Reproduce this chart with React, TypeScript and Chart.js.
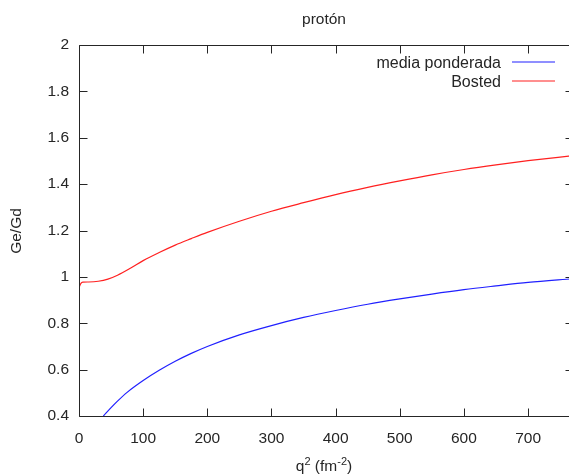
import { useEffect, useRef } from "react";
import { Chart, registerables } from "chart.js";

Chart.register(...registerables);

const chartTitle = "protón";
const yAxisTitle = "Ge/Gd";
const seriesNames = ["media ponderada", "Bosted"];
const seriesColors = ["#2020ff", "#ff2020"];

const mediaQ2 = [38, 50, 60, 75, 100, 125, 150, 175, 200, 250, 300, 350, 400, 450, 500, 550, 600, 650, 700, 770];
const mediaValues = [0.4, 0.436, 0.464, 0.502, 0.553, 0.597, 0.636, 0.67, 0.7, 0.75, 0.79, 0.825, 0.855, 0.882, 0.905, 0.926, 0.945, 0.961, 0.976, 0.992];

const bostedQ2 = [0, 1, 3, 6, 15, 30, 45, 60, 80, 100, 125, 150, 175, 200, 250, 300, 350, 400, 450, 500, 550, 600, 650, 700, 770];
const bostedValues = [0.95, 0.96, 0.972, 0.977, 0.978, 0.981, 0.99, 1.007, 1.037, 1.07, 1.105, 1.137, 1.165, 1.192, 1.24, 1.283, 1.32, 1.355, 1.386, 1.414, 1.44, 1.463, 1.483, 1.501, 1.523];

const xTicks = [0, 100, 200, 300, 400, 500, 600, 700];
const yTicks = [0.4, 0.6, 0.8, 1, 1.2, 1.4, 1.6, 1.8, 2];

const FONT_FAMILY = "'Liberation Sans', Arial, sans-serif";
const TEXT_COLOR = "#262626";

const framePlugin = {
  id: "gnuplotFrame",
  afterDatasetsDraw(chart: any) {
    const { ctx, chartArea } = chart;
    const xs = chart.scales.x;
    const ys = chart.scales.y;
    const L = Math.round(chartArea.left) + 0.5;
    const R = Math.round(chartArea.right) + 0.5;
    const T = Math.round(chartArea.top) + 0.5;
    const B = Math.round(chartArea.bottom) + 0.5;
    const tl = 8;
    ctx.save();
    ctx.strokeStyle = TEXT_COLOR;
    ctx.lineWidth = 1;
    ctx.beginPath();
    ctx.rect(L, T, R - L, B - T);
    xTicks.forEach((v) => {
      const px = Math.round(xs.getPixelForValue(v)) + 0.5;
      ctx.moveTo(px, B);
      ctx.lineTo(px, B - tl);
      ctx.moveTo(px, T);
      ctx.lineTo(px, T + tl);
    });
    yTicks.forEach((v) => {
      const py = Math.round(ys.getPixelForValue(v)) + 0.5;
      ctx.moveTo(L, py);
      ctx.lineTo(L + tl, py);
      ctx.moveTo(R, py);
      ctx.lineTo(R - tl, py);
    });
    ctx.stroke();

    // title
    ctx.fillStyle = TEXT_COLOR;
    ctx.font = `15.5px ${FONT_FAMILY}`;
    ctx.textAlign = "center";
    ctx.textBaseline = "middle";
    const cx = (chartArea.left + 569) / 2;
    ctx.fillText(chartTitle, cx, 20);

    // y title
    ctx.save();
    ctx.translate(17, 231);
    ctx.rotate(-Math.PI / 2);
    ctx.fillText(yAxisTitle, 0, 0);
    ctx.restore();

    // x title with superscripts: q^2 (fm^-2)
    const parts: [string, boolean][] = [["q", false], ["2", true], [" (fm", false], ["-2", true], [")", false]];
    const mainFont = `15.5px ${FONT_FAMILY}`;
    const supFont = `11px ${FONT_FAMILY}`;
    let total = 0;
    parts.forEach(([t, sup]) => {
      ctx.font = sup ? supFont : mainFont;
      total += ctx.measureText(t).width;
    });
    let x0 = cx - total / 2;
    ctx.textAlign = "left";
    ctx.textBaseline = "alphabetic";
    const base = 471;
    parts.forEach(([t, sup]) => {
      ctx.font = sup ? supFont : mainFont;
      ctx.fillText(t, x0, sup ? base - 6 : base);
      x0 += ctx.measureText(t).width;
    });

    // legend
    ctx.font = `16px ${FONT_FAMILY}`;
    ctx.textAlign = "right";
    ctx.textBaseline = "alphabetic";
    const legendY = [62, 81];
    seriesNames.forEach((name, i) => {
      ctx.fillStyle = TEXT_COLOR;
      ctx.fillText(name, 501, legendY[i] + 5.5);
      ctx.strokeStyle = seriesColors[i];
      ctx.lineWidth = 1.2;
      ctx.beginPath();
      ctx.moveTo(512, legendY[i]);
      ctx.lineTo(555, legendY[i]);
      ctx.stroke();
    });
    ctx.restore();
  },
};

export default function App() {
  const canvasRef = useRef<HTMLCanvasElement | null>(null);

  useEffect(() => {
    const canvas = canvasRef.current;
    if (!canvas) return;
    const chart = new Chart(canvas, {
      type: "line",
      data: {
        datasets: [
          {
            label: seriesNames[0],
            data: mediaQ2.map((q, i) => ({ x: q, y: mediaValues[i] })),
            borderColor: seriesColors[0],
            borderWidth: 1.2,
            pointRadius: 0,
            cubicInterpolationMode: "monotone",
            fill: false,
          },
          {
            label: seriesNames[1],
            data: bostedQ2.map((q, i) => ({ x: q, y: bostedValues[i] })),
            borderColor: seriesColors[1],
            borderWidth: 1.2,
            pointRadius: 0,
            cubicInterpolationMode: "monotone",
            fill: false,
          },
        ],
      },
      options: {
        responsive: false,
        maintainAspectRatio: false,
        animation: false,
        devicePixelRatio: 1,
        layout: { padding: { top: 45, right: 7, left: 0, bottom: 0 } },
        plugins: {
          legend: { display: false },
          title: { display: false },
          tooltip: { enabled: false },
        },
        scales: {
          x: {
            type: "linear",
            min: 0,
            max: 770,
            grid: { display: false, drawTicks: false },
            border: { display: false },
            ticks: {
              font: { family: FONT_FAMILY, size: 15.5 },
              color: TEXT_COLOR,
              padding: 13,
              maxRotation: 0,
              callback: (v: any) => String(v),
            },
            afterBuildTicks: (s: any) => {
              s.ticks = xTicks.map((v) => ({ value: v }));
            },
            afterFit: (s: any) => {
              s.height = 60;
            },
          },
          y: {
            type: "linear",
            min: 0.4,
            max: 2,
            grid: { display: false, drawTicks: false },
            border: { display: false },
            ticks: {
              font: { family: FONT_FAMILY, size: 15.5 },
              color: TEXT_COLOR,
              padding: 10,
              callback: (v: any) => String(Math.round(Number(v) * 10) / 10),
            },
            afterBuildTicks: (s: any) => {
              s.ticks = yTicks.map((v) => ({ value: v }));
            },
            afterFit: (s: any) => {
              s.width = 79;
            },
          },
        },
      },
      plugins: [framePlugin],
    });
    return () => chart.destroy();
  }, []);

  return (
    <div style={{ position: "absolute", left: 0, top: 0, width: 569, height: 476, overflow: "hidden", background: "#fff" }}>
      <canvas ref={canvasRef} width={580} height={476} style={{ width: 580, height: 476, display: "block" }} />
    </div>
  );
}
